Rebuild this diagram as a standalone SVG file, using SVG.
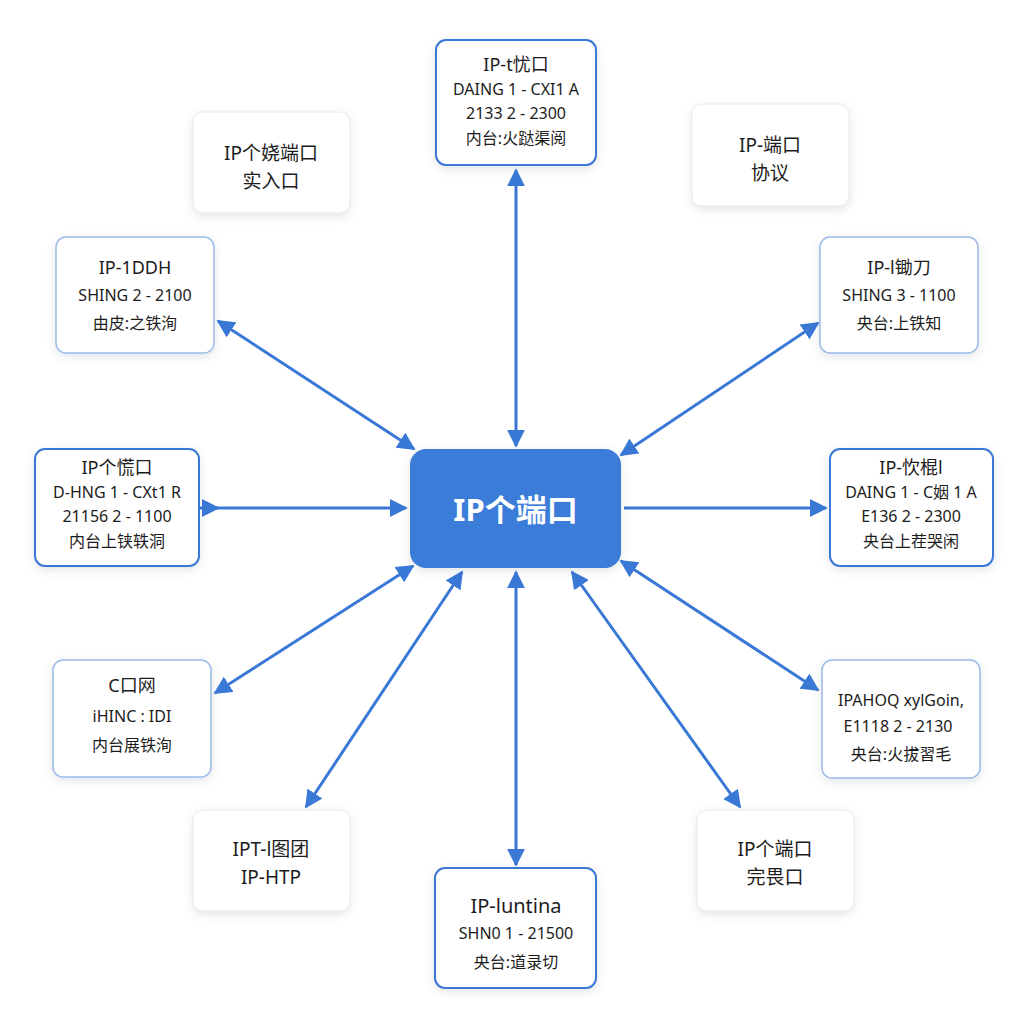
<svg xmlns="http://www.w3.org/2000/svg" width="1024" height="1024" viewBox="0 0 1024 1024">
<defs>
<filter id="sh" x="-20%" y="-20%" width="140%" height="150%">
<feDropShadow dx="0" dy="3" stdDeviation="4" flood-color="#5a6a85" flood-opacity="0.18"/>
</filter>
<marker id="ah" viewBox="0 0 10 10" refX="9" refY="5" markerWidth="6" markerHeight="6" orient="auto-start-reverse" markerUnits="strokeWidth">
<path d="M0,0 L10,5 L0,10 z" fill="#3a78d6"/>
</marker>
<marker id="af" viewBox="0 0 10 10" refX="9" refY="5" markerWidth="6" markerHeight="6" orient="auto" markerUnits="strokeWidth">
<path d="M0,0 L10,5 L0,10 z" fill="#3a78d6"/>
</marker>
</defs>
<style>
.box{fill:#ffffff;filter:url(#sh)}
.b1{stroke:#3a78d6;stroke-width:2}
.b2{stroke:#9cbbe8;stroke-width:1.5}
.b0{stroke:#e6e9ef;stroke-width:1}
text{font-family:"Noto Sans","Noto Sans CJK SC",sans-serif;fill:#1c1c1c;text-anchor:middle}
.t{font-size:18px;font-weight:400}
.s{font-size:16px}
.l{font-size:19px;font-weight:400}
.c{stroke:#3a78d6;stroke-width:3;fill:none}
</style>
<rect width="1024" height="1024" fill="#ffffff"/>
<g id="connectors">
<line class="c" x1="516" y1="170" x2="516" y2="446" marker-start="url(#ah)" marker-end="url(#ah)"/>
<line class="c" x1="516" y1="572" x2="516" y2="865" marker-start="url(#ah)" marker-end="url(#ah)"/>
<path class="c" d="M200,508 L218,508" marker-end="url(#af)"/>
<line class="c" x1="216" y1="508" x2="406" y2="508" marker-end="url(#ah)"/>
<line class="c" x1="624" y1="508" x2="826" y2="508" marker-end="url(#ah)"/>
<line class="c" x1="218" y1="321" x2="414" y2="449" marker-start="url(#ah)" marker-end="url(#ah)"/>
<line class="c" x1="818" y1="323" x2="621" y2="455" marker-start="url(#ah)" marker-end="url(#ah)"/>
<line class="c" x1="413" y1="566" x2="215" y2="693" marker-start="url(#ah)" marker-end="url(#ah)"/>
<line class="c" x1="621" y1="561" x2="818" y2="690" marker-start="url(#ah)" marker-end="url(#ah)"/>
<line class="c" x1="462" y1="572" x2="306" y2="807" marker-start="url(#ah)" marker-end="url(#ah)"/>
<line class="c" x1="572" y1="572" x2="740" y2="807" marker-start="url(#ah)" marker-end="url(#ah)"/>
</g>
<g id="center">
<rect x="410" y="449" width="211" height="119" rx="16" fill="#3a7bd8" filter="url(#sh)"/>
<text x="515.5" y="521" style="fill:#ffffff;font-size:31px;font-weight:700">IP个端口</text>
</g>
<g id="n-top">
<rect class="box b1" x="436" y="40" width="160" height="125" rx="10"/>
<text class="t" x="516" y="71">IP-t忧口</text>
<text class="s" x="516" y="95">DAING 1 - CXI1 A</text>
<text class="s" x="516" y="119">2133 2 - 2300</text>
<text class="s" x="516" y="144">内台:火跶渠阅</text>
</g>
<g id="n-topleft">
<rect class="box b0" x="193" y="112" width="157" height="101" rx="10"/>
<text class="l" x="271" y="160">IP个娆端口</text>
<text class="l" x="271" y="188">实入口</text>
</g>
<g id="n-topright">
<rect class="box b0" x="692" y="104" width="157" height="102" rx="10"/>
<text class="l" x="770" y="152">IP-端口</text>
<text class="l" x="770" y="180">协议</text>
</g>
<g id="n-leftupper">
<rect class="box b2" x="56" y="237" width="158" height="116" rx="10"/>
<text class="t" x="135" y="274">IP-1DDH</text>
<text class="s" x="135" y="301">SHING 2 - 2100</text>
<text class="s" x="135" y="329">由皮:之铁洵</text>
</g>
<g id="n-rightupper">
<rect class="box b2" x="820" y="237" width="158" height="116" rx="10"/>
<text class="t" x="899" y="274">IP-l锄刀</text>
<text class="s" x="899" y="301">SHING 3 - 1100</text>
<text class="s" x="899" y="329">央台:上铁知</text>
</g>
<g id="n-leftmid">
<rect class="box b1" x="35" y="449" width="164" height="117" rx="10"/>
<text class="t" x="117" y="474">IP个慌口</text>
<text class="s" x="117" y="498">D-HNG 1 - CXt1 R</text>
<text class="s" x="117" y="522">21156 2 - 1100</text>
<text class="s" x="117" y="547">内台上铗轶洞</text>
</g>
<g id="n-rightmid">
<rect class="box b1" x="830" y="449" width="163" height="117" rx="10"/>
<text class="t" x="911" y="474">IP-忺棍l</text>
<text class="s" x="911" y="498">DAING 1 - C姻 1 A</text>
<text class="s" x="911" y="522">E136 2 - 2300</text>
<text class="s" x="911" y="547">央台上茬哭闲</text>
</g>
<g id="n-leftlower">
<rect class="box b2" x="53" y="660" width="158" height="117" rx="10"/>
<text class="t" x="132" y="692">C口网</text>
<text class="s" x="132" y="722">iHINC : IDI</text>
<text class="s" x="132" y="751">内台展铁洵</text>
</g>
<g id="n-rightlower">
<rect class="box b2" x="822" y="660" width="158" height="118" rx="10"/>
<text class="s" x="901" y="706">IPAHOQ xylGoin,</text>
<text class="s" x="898" y="732">E1118 2 - 2130</text>
<text class="s" x="901" y="760">央台:火拔習毛</text>
</g>
<g id="n-bottomleft">
<rect class="box b0" x="193" y="810" width="157" height="101" rx="10"/>
<text class="l" x="271" y="856">IPT-l图团</text>
<text class="l" x="271" y="884">IP-HTP</text>
</g>
<g id="n-bottomright">
<rect class="box b0" x="697" y="810" width="157" height="101" rx="10"/>
<text class="l" x="775" y="856">IP个端口</text>
<text class="l" x="775" y="884">完畏口</text>
</g>
<g id="n-bottom">
<rect class="box b1" x="435" y="868" width="161" height="120" rx="10"/>
<text class="t" x="516" y="913" style="font-size:20px">IP-luntina</text>
<text class="s" x="516" y="939">SHN0 1 - 21500</text>
<text class="s" x="516" y="968">央台:道录切</text>
</g>
</svg>
